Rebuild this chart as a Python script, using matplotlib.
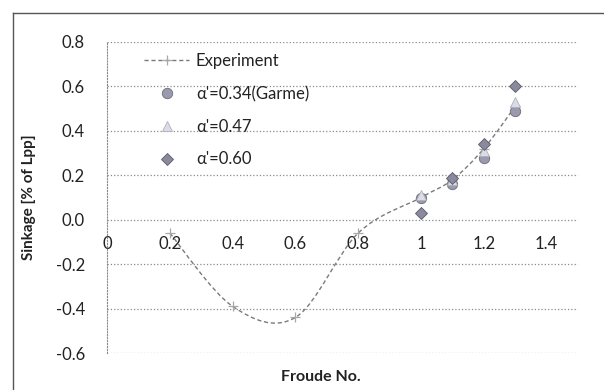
import matplotlib
matplotlib.use('Agg')
import matplotlib.pyplot as plt
from matplotlib.path import Path
from matplotlib.patches import PathPatch
from matplotlib.lines import Line2D

plt.rcParams['font.family'] = ['Lato', 'DejaVu Sans']

# data
exp_x = [0.2, 0.4, 0.6, 0.8, 1.0, 1.1, 1.2, 1.3]
exp_y = [-0.06, -0.39, -0.44, -0.06, 0.10, 0.18, 0.32, 0.51]

fr = [1.0, 1.1, 1.2, 1.3]
garme = [0.10, 0.16, 0.28, 0.49]
a047 = [0.11, 0.18, 0.31, 0.53]
a060 = [0.03, 0.19, 0.34, 0.60]

xticks = [0, 0.2, 0.4, 0.6, 0.8, 1.0, 1.2, 1.4]
xlabels = ['0', '0.2', '0.4', '0.6', '0.8', '1', '1.2', '1.4']
yticks = [-0.6, -0.4, -0.2, 0.0, 0.2, 0.4, 0.6, 0.8]
ylabels = ['-0.6', '-0.4', '-0.2', '0.0', '0.2', '0.4', '0.6', '0.8']


def smooth_path(xs, ys):
    # excel style smoothed line: bezier through the points
    pts = list(zip(xs, ys))
    n = len(pts)
    verts = [pts[0]]
    codes = [Path.MOVETO]
    for i in range(n - 1):
        p0 = pts[i - 1] if i > 0 else pts[i]
        p1 = pts[i]
        p2 = pts[i + 1]
        p3 = pts[i + 2] if i + 2 < n else pts[i + 1]
        c1 = (p1[0] + (p2[0] - p0[0]) / 6, p1[1] + (p2[1] - p0[1]) / 6)
        c2 = (p2[0] - (p3[0] - p1[0]) / 6, p2[1] - (p3[1] - p1[1]) / 6)
        verts += [c1, c2, p2]
        codes += [Path.CURVE4] * 3
    return Path(verts, codes)


fig = plt.figure(figsize=(6.04, 3.9), dpi=100)
ax = fig.add_axes([107 / 604, 1 - 353 / 390, 471 / 604, 311 / 390])

ax.set_xlim(0, 1.5)
ax.set_ylim(-0.6, 0.8)

for s in ['top', 'right']:
    ax.spines[s].set_visible(False)
ax.spines['left'].set_linestyle(':')
ax.spines['left'].set_color('#888888')
ax.spines['bottom'].set_position(('data', 0))
ax.spines['bottom'].set_visible(False)

ax.yaxis.grid(True, linestyle=':', color='#8a8a8a', linewidth=0.9)
ax.set_axisbelow(True)

ax.set_xticks(xticks)
ax.set_xticklabels(xlabels)
ax.set_yticks(yticks)
ax.set_yticklabels(ylabels)
ax.tick_params(axis='x', length=0, pad=12, labelsize=12, colors='#222222')
ax.tick_params(axis='y', length=0, pad=16, labelsize=12, colors='#222222')

patch = PathPatch(smooth_path(exp_x, exp_y), fill=False, edgecolor='#7a7a7a',
                  linestyle=(0, (3, 2)), linewidth=1.0, zorder=3)
ax.add_patch(patch)
ax.plot(exp_x, exp_y, ls='none', marker='+', ms=7, mew=0.9, color='#a8a8a8', zorder=4)

ax.plot(fr, garme, ls='none', marker='o', ms=7.5, mfc='#9a9aae', mec='#6c6c7c', mew=0.6, zorder=5)
ax.plot(fr, a047, ls='none', marker='^', ms=7.5, mfc='#dcdce6', mec='#b0b0bc', mew=0.6, zorder=5)
ax.plot(fr, a060, ls='none', marker='D', ms=6.5, mfc='#8a8a9e', mec='#5a5a68', mew=0.6, zorder=6)

handles = [
    Line2D([], [], color='#7a7a7a', linestyle=(0, (3, 2)), lw=1.0, marker='+', ms=7,
           mec='#a8a8a8', mew=0.9),
    Line2D([], [], ls='none', marker='o', ms=7.5, mfc='#9a9aae', mec='#6c6c7c', mew=0.6),
    Line2D([], [], ls='none', marker='^', ms=7.5, mfc='#dcdce6', mec='#b0b0bc', mew=0.6),
    Line2D([], [], ls='none', marker='D', ms=6.5, mfc='#8a8a9e', mec='#5a5a68', mew=0.6),
]
labels = ['Experiment', "α'=0.34(Garme)", "α'=0.47", "α'=0.60"]
leg = ax.legend(handles, labels, loc='upper left', bbox_to_anchor=(0.065, 0.985),
                frameon=False, fontsize=12, handlelength=2.7, handletextpad=0.4,
                labelspacing=1.0, borderaxespad=0)
for t in leg.get_texts():
    t.set_color('#222222')

ax.set_ylabel('Sinkage [% of Lpp]', fontsize=11, fontweight='bold', color='#222222')
ax.yaxis.set_label_coords(-0.15, 0.5)
fig.text(321 / 604, 1 - 377 / 390, 'Froude No.', ha='center', va='center',
         fontsize=11.5, fontweight='bold', color='#222222')

# chart area border (top and left edge visible)
fig.add_artist(Line2D([13 / 604, 1], [1 - 13 / 390, 1 - 13 / 390], color='#555555', lw=1.0))
fig.add_artist(Line2D([13 / 604, 13 / 604], [0, 1 - 13 / 390], color='#555555', lw=1.0))

fig.savefig('out.png', dpi=100)
